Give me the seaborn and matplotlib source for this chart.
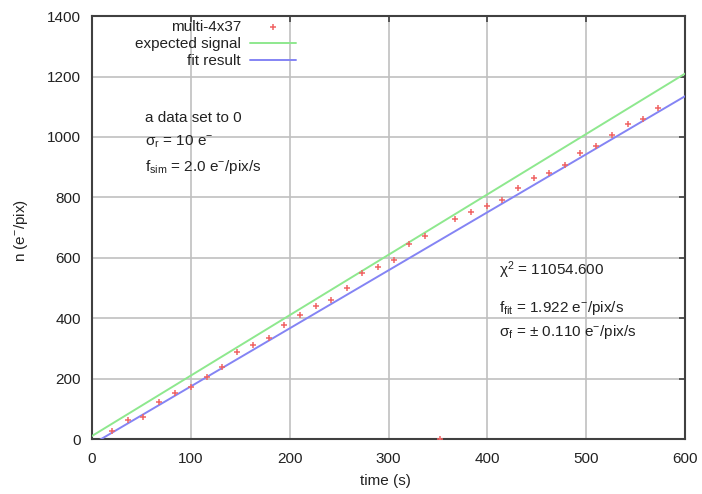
import matplotlib
matplotlib.use("Agg")
import matplotlib.pyplot as plt
import numpy as np
import pandas as pd
import seaborn as sns

# measured signal, one ramp read every ~15.7 s
time_s = [20.5, 36.5, 52, 68, 84, 100, 116, 132, 147, 163, 179, 194.5,
          210.5, 226.5, 242, 258, 273, 289, 305, 321, 336.5, 352,
          367.5, 383.5, 399.5, 415, 431, 447, 462.5, 478, 494, 510,
          526, 542, 557, 573]
signal = [28, 63, 74, 123, 151, 172, 204, 237, 289, 310, 333, 379,
          410, 441, 459, 499, 548, 570, 592, 645, 672, 0,
          727, 752, 771, 791, 830, 863, 881, 907, 948, 970,
          1007, 1042, 1060, 1095]

# model lines
line_t = [0, 600]
f_sim, sim_offset = 2.0, 10.0
f_fit, fit_offset = 1.922, -18.0
chi2 = 11054.600
sigma_f = 0.110
sigma_r = 10

x_ticks = [0, 100, 200, 300, 400, 500, 600]
y_ticks = [0, 200, 400, 600, 800, 1000, 1200, 1400]

sns.set_theme(style="white")
plt.rcParams["font.family"] = ["Liberation Sans", "DejaVu Sans"]
plt.rcParams["mathtext.fontset"] = "custom"
plt.rcParams["mathtext.rm"] = "Liberation Sans"
plt.rcParams["mathtext.it"] = "Liberation Sans"
plt.rcParams["mathtext.default"] = "regular"

FS = 11
RED = "#f06464"
GREEN = "#8ee88e"
BLUE = "#8484f4"

fig = plt.figure(figsize=(7.02, 4.94), dpi=100)
ax = fig.add_axes([0.131, 0.1113, 0.845, 0.856])

pts = pd.DataFrame({"time": time_s, "n": signal})
lines = pd.DataFrame({
    "time": line_t * 2,
    "n": [f_sim * t + sim_offset for t in line_t] + [f_fit * t + fit_offset for t in line_t],
    "curve": ["expected signal"] * 2 + ["fit result"] * 2,
})

sns.scatterplot(data=pts, x="time", y="n", marker="+", color=RED, s=20,
                linewidth=1.1, ax=ax, label="multi-4x37", zorder=4)
sns.lineplot(data=lines, x="time", y="n", hue="curve",
             palette={"expected signal": GREEN, "fit result": BLUE},
             linewidth=1.4, ax=ax, zorder=3)

ax.set_xlim(0, 600)
ax.set_ylim(0, 1400)
ax.set_xticks(x_ticks)
ax.set_yticks(y_ticks)
ax.grid(True, color="#c0c0c0", linewidth=1.2)
ax.set_axisbelow(True)
for sp in ax.spines.values():
    sp.set_color("#404040")
    sp.set_linewidth(1.5)
ax.tick_params(direction="in", length=4, width=1.2, color="#404040",
               top=True, right=True, labelsize=FS, labelcolor="#222222")
ax.tick_params(axis="x", pad=9)
ax.tick_params(axis="y", pad=8)

ax.set_xlabel("time (s)", fontsize=FS, color="#222222")
ax.set_ylabel("n (e$^{-}$/pix)", fontsize=FS, color="#222222")
ax.xaxis.set_label_coords(0.494, -0.083)
ax.yaxis.set_label_coords(-0.105, 0.494)

# key: labels right-aligned, samples to the right
handles, labels = ax.get_legend_handles_labels()
leg = ax.legend(handles, labels, loc="upper right", bbox_to_anchor=(0.344, 0.99),
                frameon=False, markerfirst=False, fontsize=FS, handlelength=3.0,
                handletextpad=0.6, labelspacing=0.2, borderpad=0, borderaxespad=0)
for col in leg._legend_handle_box.get_children():
    col.align = "right"
for t in leg.get_texts():
    t.set_color("#222222")

txt = dict(fontsize=FS, color="#222222", va="center", ha="left")
ax.text(53.6, 1063, "a data set to 0", **txt)
ax.text(53.6, 983, f"σ$_r$ = {sigma_r} e$^{{-}}$", **txt)
ax.text(53.6, 900, f"f$_{{sim}}$ = {f_sim:.1f} e$^{{-}}$/pix/s", **txt)
ax.text(412, 560, f"χ$^2$ = {chi2:.3f}", **txt)
ax.text(412, 434, f"f$_{{fit}}$ = {f_fit:.3f} e$^{{-}}$/pix/s", **txt)
ax.text(412, 354, f"σ$_f$ = ± {sigma_f:.3f} e$^{{-}}$/pix/s", **txt)

fig.savefig("out.png", dpi=100)
